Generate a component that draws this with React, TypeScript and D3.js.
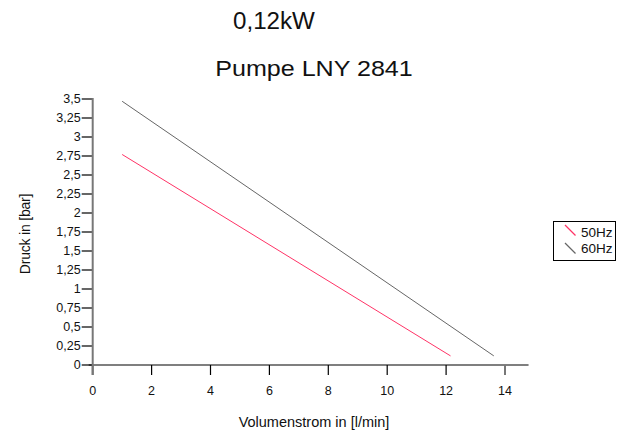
import React from "react";
import * as d3 from "d3";

const title1 = "0,12kW";
const title2 = "Pumpe LNY 2841";
const xLabel = "Volumenstrom in [l/min]";
const yLabel = "Druck in [bar]";
const xTicks = [0, 2, 4, 6, 8, 10, 12, 14];
const yTicks = [0, 0.25, 0.5, 0.75, 1, 1.25, 1.5, 1.75, 2, 2.25, 2.5, 2.75, 3, 3.25, 3.5];
const seriesNames = ["50Hz", "60Hz"];
const seriesColors = ["#ff3366", "#666666"];
const flow50 = [1, 12.15];
const press50 = [2.77, 0.12];
const flow60 = [1, 13.62];
const press60 = [3.47, 0.12];

export default function App() {
  const W = 617, H = 434;
  const x = d3.scaleLinear().domain([0, 14]).range([92.7, 505]);
  const y = d3.scaleLinear().domain([0, 3.5]).range([365, 99]);
  const fmt = (v: number) => String(v).replace(".", ",");
  const line = d3.line<[number, number]>().x(d => x(d[0])).y(d => y(d[1]));
  const s50 = flow50.map((f, i) => [f, press50[i]] as [number, number]);
  const s60 = flow60.map((f, i) => [f, press60[i]] as [number, number]);
  const series = [s50, s60];
  const font = "Arial, 'Liberation Sans', sans-serif";
  return (
    <svg width={W} height={H} style={{ position: "absolute", left: 0, top: 0 }} fontFamily={font}>
      <rect width={W} height={H} fill="#fff" />
      <text x={274} y={29} fontSize={23} textAnchor="middle" fill="#111" transform="translate(274,0) scale(1.05,1) translate(-274,0)">{title1}</text>
      <text x={314} y={76} fontSize={22} textAnchor="middle" fill="#111" transform="translate(314,0) scale(1.14,1) translate(-314,0)">{title2}</text>
      {/* x axis */}
      <line x1={x(0) - 4} x2={x(14.8)} y1={y(0)} y2={y(0)} stroke="#000" strokeWidth={1.2} />
      {xTicks.map(t => (
        <g key={t}>
          <line x1={x(t)} x2={x(t)} y1={y(0)} y2={y(0) + 10} stroke={t === 0 || t === 14 ? "#777" : "#000"} strokeWidth={t === 0 || t === 14 ? 2 : 1.2} />
          <text x={x(t)} y={y(0) + 30} fontSize={12.5} textAnchor="middle" fill="#111">{t}</text>
        </g>
      ))}
      {/* y axis */}
      {yTicks.map(t => (
        <g key={t}>
          <line x1={x(0) - 11} x2={x(0)} y1={y(t)} y2={y(t)} stroke="#000" strokeWidth={1.2} />
          <text x={x(0) - 12} y={y(t) + 4} fontSize={12.5} textAnchor="end" fill="#111">{fmt(t)}</text>
        </g>
      ))}
      <line x1={x(0)} x2={x(0)} y1={y(3.5) - 1} y2={y(0) + 10} stroke="#777" strokeWidth={2} />
      <text x={314} y={427} fontSize={14.5} textAnchor="middle" fill="#111">{xLabel}</text>
      <text transform={`translate(30,234) rotate(-90)`} fontSize={14} textAnchor="middle" fill="#111" letterSpacing={-0.2}>{yLabel}</text>
      {series.map((s, i) => (
        <path key={i} d={line(s) || ""} fill="none" stroke={seriesColors[i]} strokeWidth={1} />
      ))}
      {/* legend */}
      <rect x={553.5} y={221.5} width={62} height={39} fill="#fff" stroke="#000" strokeWidth={1} />
      {seriesNames.map((n, i) => (
        <g key={n}>
          <line x1={565} x2={575.5} y1={225 + i * 18} y2={235.5 + i * 18} stroke={seriesColors[i]} strokeWidth={1.2} />
          <text x={581} y={237 + i * 16} fontSize={13.5} fill="#111">{n}</text>
        </g>
      ))}
    </svg>
  );
}
